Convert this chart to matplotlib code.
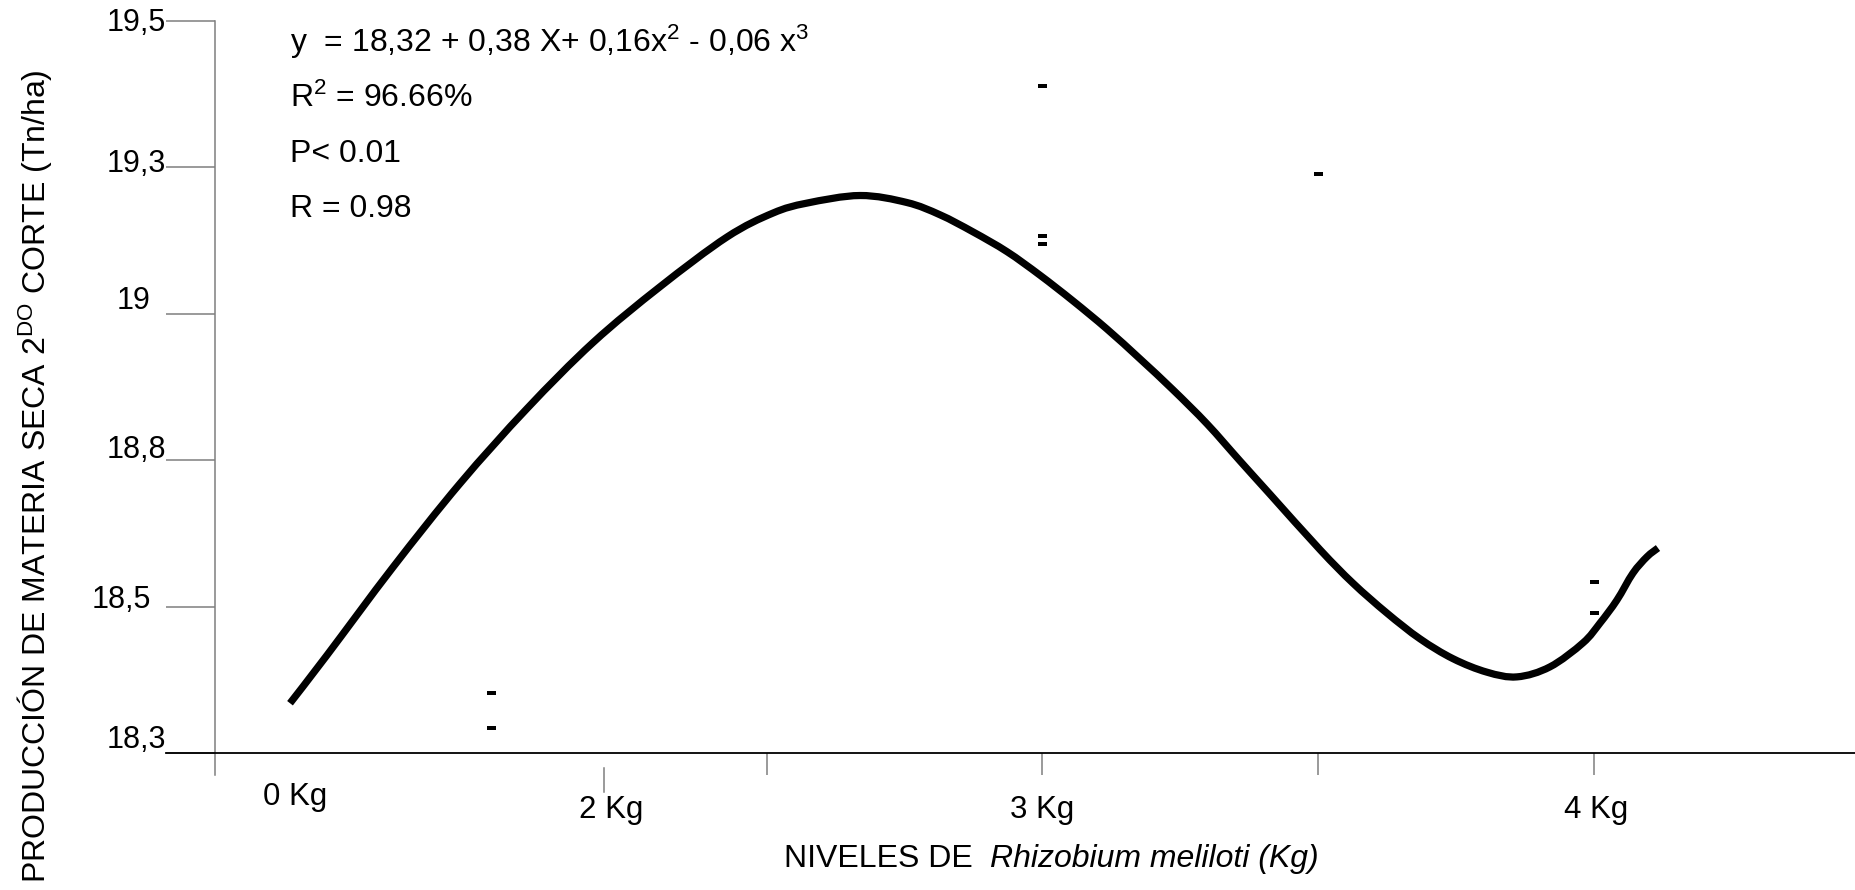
import numpy as np
import matplotlib
matplotlib.use("Agg")
import matplotlib.pyplot as plt
from matplotlib.path import Path
from matplotlib.patches import PathPatch

# =========================================
# DATA
# =========================================
# fitted curve, x in axis units (0..5.95), y in Tn/ha
curve_x = [0.272, 0.406, 0.645, 0.888, 1.131, 1.371, 1.613, 1.856, 2.023,
           2.146, 2.339, 2.509, 2.629, 2.748, 2.872, 2.991, 3.111, 3.234, 3.354,
           3.474, 3.597, 3.716, 3.825, 4.007, 4.126, 4.249, 4.369, 4.489, 4.612,
           4.721, 4.840, 4.960, 5.022, 5.083, 5.141, 5.192, 5.232]
curve_y = [18.335, 18.417, 18.567, 18.710, 18.838, 18.951, 19.046, 19.131, 19.172,
           19.189, 19.202, 19.190, 19.169, 19.140, 19.106, 19.066, 19.022, 18.974, 18.923,
           18.870, 18.812, 18.749, 18.692, 18.597, 18.540, 18.489, 18.445, 18.411, 18.388,
           18.380, 18.397, 18.438, 18.472, 18.511, 18.557, 18.585, 18.600]

# observed values (small dashes)
obs_x = [1.0, 1.0, 3.0, 3.0, 3.0, 4.0, 5.0, 5.0]
obs_y = [18.352, 18.293, 19.389, 19.133, 19.119, 19.239, 18.542, 18.489]

y_ticks = [18.25, 18.5, 18.75, 19.0, 19.25, 19.5]
y_tick_labels = ["18,3", "18,5", "18,8", "19", "19,3", "19,5"]

x_ticks = [2, 3, 4, 5]
x_labels = ["0 Kg", "2 Kg", "3 Kg", "4 Kg"]
x_label_pos = [0.29, 1.436, 3.0, 5.007]

stats_lines = [
    r"y  = 18,32 + 0,38 X+ 0,16x$^2$ - 0,06 x$^3$",
    r"R$^2$ = 96.66%",
    "P< 0.01",
    "R = 0.98",
]


# =========================================
# SMOOTH PATH (Catmull-Rom -> cubic bezier)
# =========================================
def smooth_path(x, y):
    p = np.column_stack([x, y])
    pts = np.vstack([p[0], p, p[-1]])
    verts = [p[0]]
    codes = [Path.MOVETO]
    for i in range(1, len(pts) - 2):
        c1 = pts[i] + (pts[i + 1] - pts[i - 1]) / 6.0
        c2 = pts[i + 1] - (pts[i + 2] - pts[i]) / 6.0
        verts += [c1, c2, pts[i + 1]]
        codes += [Path.CURVE4] * 3
    return Path(verts, codes)


# =========================================
# STYLE
# =========================================
plt.rcParams.update({
    "font.family": ["Liberation Sans", "DejaVu Sans"],
    "mathtext.fontset": "custom",
    "mathtext.rm": "Liberation Sans",
    "mathtext.it": "Liberation Sans:italic",
    "mathtext.bf": "Liberation Sans:bold",
})

W, H, DPI = 1856, 890, 100
PX = 72.0 / DPI  # points per pixel

fig = plt.figure(figsize=(W / DPI, H / DPI), dpi=DPI)
ax = fig.add_axes([215 / W, 137 / H, (W - 215) / W, (753 - 21) / H])
ax.set_xlim(0, (W - 215) / 275.8)
ax.set_ylim(18.25, 19.5)
for s in ax.spines.values():
    s.set_visible(False)

# curve + observations
ax.add_patch(PathPatch(smooth_path(curve_x, curve_y), fill=False, edgecolor="black",
                       lw=5.2, capstyle="butt", joinstyle="round", clip_on=False, zorder=3))
ax.plot(obs_x, obs_y, ls="none", marker="_", ms=9 * PX, mew=4 * PX,
        color="black", clip_on=False, zorder=3)

# axes lines
ypx = 0.25 / 146.4  # data units per pixel on y
ax.plot([0, 0], [18.25 - 22 * ypx, 19.5], color="#7f7f7f", lw=1.1, clip_on=False)
ax.plot([-49 / 275.8, ax.get_xlim()[1]], [18.25, 18.25], color="black", lw=1.3, clip_on=False)

# y ticks drawn outward
ax.set_yticks(y_ticks)
ax.set_yticklabels([])
ax.tick_params(axis="y", direction="out", length=49 * PX, width=1.1, color="#7f7f7f")
ax.set_xticks(x_ticks)
ax.set_xticklabels([])
ax.tick_params(axis="x", direction="out", length=22 * PX, width=1.1, color="#7f7f7f")
# the lone offset tick under "2 Kg"
ax.plot([1.41, 1.41], [18.25 - 15 * ypx, 18.25 - 39 * ypx], color="#7f7f7f", lw=1.1, clip_on=False)

# y tick labels (right edge / vertical nudge in px)
y_right = [49, 64, 49, 64, 49, 49]
y_nudge = [13, 7, 10, 13, 3, -2]
for v, lab, r, n in zip(y_ticks, y_tick_labels, y_right, y_nudge):
    ax.annotate(lab, xy=(0, v), xytext=(-r * PX, n * PX), textcoords="offset points",
                ha="right", va="center", fontsize=22)

# x labels
x_drop = [52, 65, 65, 65]
for xp, lab, d in zip(x_label_pos, x_labels, x_drop):
    ax.annotate(lab, xy=(xp, 18.25), xytext=(0, -d * PX), textcoords="offset points",
                ha="center", va="baseline", fontsize=22.5)

# regression stats
for i, line in enumerate(stats_lines):
    fig.text(290 / W, 1 - (52 + i * 55) / H, line, ha="left", va="baseline", fontsize=23)

# axis titles
fig.text(35 / W, 1 - 476 / H, r"PRODUCCIÓN DE MATERIA SECA 2$^{\mathrm{DO}}$ CORTE (Tn/ha)",
         rotation=90, ha="center", va="center", fontsize=23)

t1 = fig.text(784 / W, 1 - 867 / H, "NIVELES DE  ", ha="left", va="baseline", fontsize=23)
fig.canvas.draw()
bb = t1.get_window_extent(renderer=fig.canvas.get_renderer())
fig.text(bb.x1 / W, 1 - 867 / H, "Rhizobium meliloti (Kg)", ha="left", va="baseline",
         fontsize=23, fontstyle="italic")

fig.savefig("out.png", dpi=DPI, facecolor="white")
